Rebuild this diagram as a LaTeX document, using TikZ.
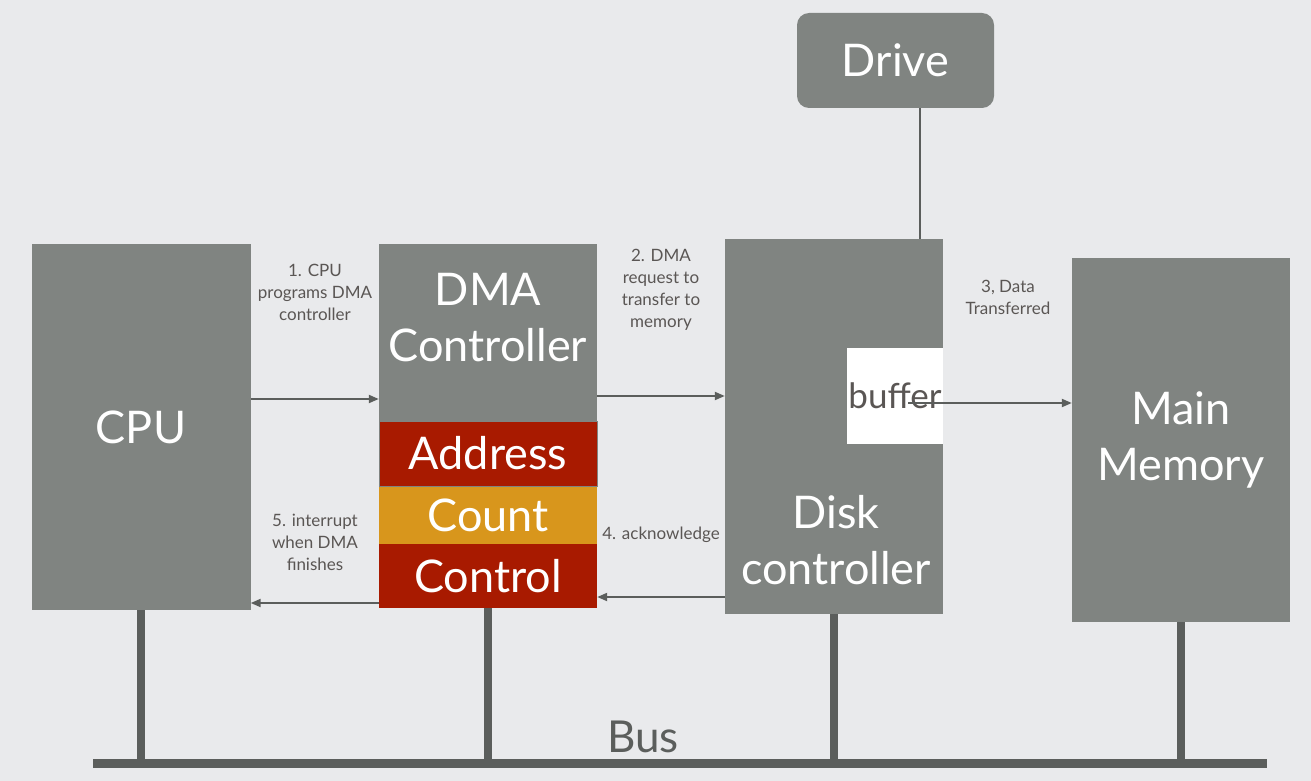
\documentclass[tikz,border=0pt]{standalone}
\usepackage{fontspec}
\setmainfont{Lato}
\usetikzlibrary{arrows.meta,backgrounds}
\definecolor{bgcol}{HTML}{E9EAEC}
\definecolor{boxgray}{HTML}{808481}
\definecolor{regred}{HTML}{A81A00}
\definecolor{regorange}{HTML}{D8961C}
\definecolor{wiregray}{HTML}{5B5E5C}
\definecolor{notegray}{HTML}{5A5654}
\begin{document}
\begin{tikzpicture}[x=1pt,y=-1pt,
    unit/.style={fill=boxgray,text=white,inner sep=0pt,align=center,
      font=\fontsize{45}{56}\selectfont},
    reg/.style={unit,minimum width=218pt},
    flow/.style={wiregray,line width=2pt,-{Triangle[length=10pt,width=8pt]}},
    stem/.style={wiregray,line width=8pt},
    note/.style={text=notegray,align=center,font=\fontsize{17}{22}\selectfont}]
  \useasboundingbox (0,0) rectangle (1311,781);
  % units
  \node[unit,minimum width=219pt,minimum height=366pt] (cpu) at (141,427) {CPU};
  \node[reg,minimum height=177pt] (dma) at (488,332.5) {};
  \node[unit,fill=none] (dmatext) at (488,318) {DMA\\Controller};
  \node[reg,fill=regred,minimum height=65pt,draw=boxgray,line width=1pt] (addr) at (488,453.5) {Address};
  \node[reg,fill=regorange,minimum height=57pt] (count) at (488,515.5) {Count};
  \node[reg,fill=regred,minimum height=64pt] (ctrl) at (488,576) {Control};
  \node[reg,minimum height=375pt] (disk) at (834,426.5) {};
  \node[unit,fill=none] (disktext) at (836,540) {Disk\\controller};
  \node[unit,fill=white,text=notegray,minimum size=96pt,
    font=\fontsize{35}{40}\selectfont] (buffer) at (895,396) {buffer};
  \node[reg,minimum height=364pt] (mem) at (1181,440) {Main\\Memory};
  \node[unit,rounded corners=12pt,minimum width=197pt,minimum height=95pt] (drive) at (895.5,60.5) {Drive};
  \coordinate (tap) at (920,0);
  \draw[wiregray,line width=2pt] (tap |- drive.south) -- (tap |- disk.north);
  % bus
  \coordinate (busL) at (93,763);
  \coordinate (busR) at (1267,763);
  \begin{scope}[on background layer]
    \fill[bgcol] (0,0) rectangle (1311,781);
    \foreach \n in {cpu,ctrl,disk,mem}
      \draw[stem] (\n.south) -- (\n.south |- busL);
  \end{scope}
  \draw[wiregray,line width=9pt] (busL) -- (busR);
  \node[text=wiregray,font=\fontsize{44}{44}\selectfont] (bus) at (643,737) {Bus};
  % steps
  \coordinate (r1) at (0,399);
  \coordinate (r2) at (0,396);
  \coordinate (r3) at (908,403);
  \coordinate (r4) at (0,597);
  \coordinate (r5) at (0,603);
  \draw[flow] (cpu.east |- r1) -- (dma.west |- r1);
  \draw[flow] (dma.east |- r2) -- (disk.west |- r2);
  \draw[flow] (r3) -- (mem.west |- r3);
  \draw[flow] (disk.west |- r4) -- (ctrl.east |- r4);
  \draw[flow] (ctrl.west |- r5) -- (cpu.east |- r5);
  \node[note] (n1) at (315,292) {1. CPU\\programs DMA\\controller};
  \node[note] (n2) at (661,289.5) {2. DMA\\request to\\transfer to\\memory};
  \node[note] (n3) at (1008,297) {3, Data\\Transferred};
  \node[note] (n4) at (661,535) {4. acknowledge};
  \node[note] (n5) at (315,542) {5. interrupt\\when DMA\\finishes};
\end{tikzpicture}
\end{document}
